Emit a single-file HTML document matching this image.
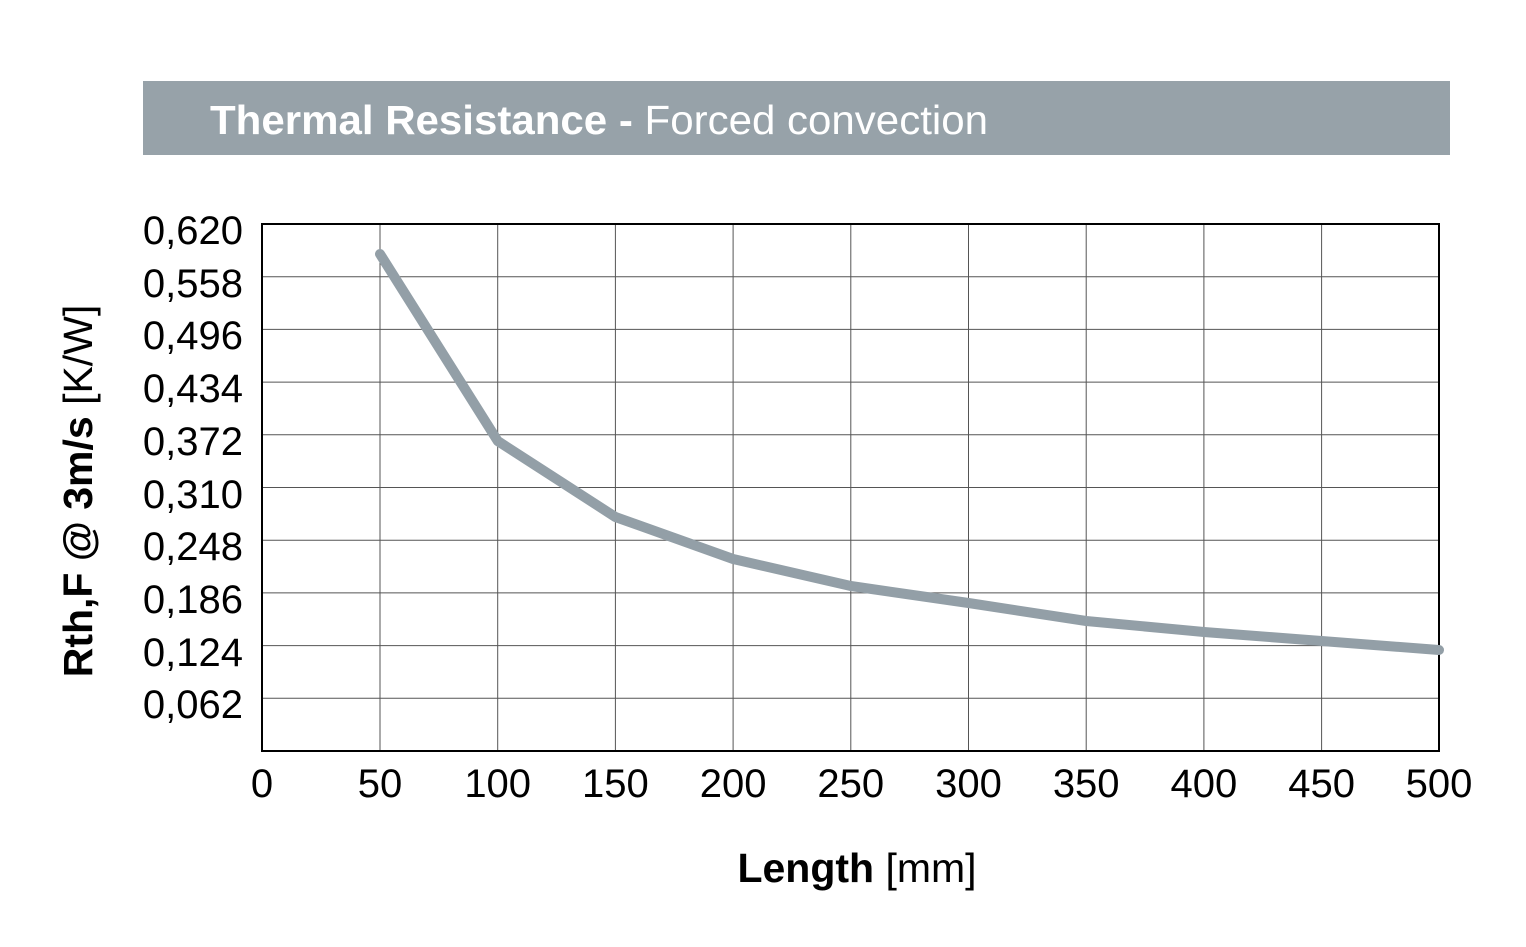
<!DOCTYPE html>
<html><head><meta charset="utf-8"><style>
html,body{margin:0;padding:0;background:#fff;}
svg{display:block;font-family:"Liberation Sans",Arial,sans-serif;}
</style></head><body>
<svg width="1526" height="947" viewBox="0 0 1526 947" xmlns="http://www.w3.org/2000/svg">
<rect x="143" y="81" width="1307" height="74" fill="#97a2a9"/>
<text x="210" y="134" font-size="41" fill="#fff" textLength="778" lengthAdjust="spacingAndGlyphs"><tspan font-weight="bold">Thermal Resistance -</tspan> Forced convection</text>
<g stroke="#555" stroke-width="1">
<line x1="380" y1="224" x2="380" y2="751"/><line x1="497.7" y1="224" x2="497.7" y2="751"/>
<line x1="615.4" y1="224" x2="615.4" y2="751"/><line x1="733.1" y1="224" x2="733.1" y2="751"/>
<line x1="850.8" y1="224" x2="850.8" y2="751"/><line x1="968.5" y1="224" x2="968.5" y2="751"/>
<line x1="1086.2" y1="224" x2="1086.2" y2="751"/><line x1="1203.9" y1="224" x2="1203.9" y2="751"/>
<line x1="1321.6" y1="224" x2="1321.6" y2="751"/>
<line x1="262" y1="276.7" x2="1439" y2="276.7"/><line x1="262" y1="329.4" x2="1439" y2="329.4"/>
<line x1="262" y1="382.1" x2="1439" y2="382.1"/><line x1="262" y1="434.8" x2="1439" y2="434.8"/>
<line x1="262" y1="487.5" x2="1439" y2="487.5"/><line x1="262" y1="540.2" x2="1439" y2="540.2"/>
<line x1="262" y1="592.9" x2="1439" y2="592.9"/><line x1="262" y1="645.6" x2="1439" y2="645.6"/>
<line x1="262" y1="698.3" x2="1439" y2="698.3"/>
</g>
<rect x="262" y="224" width="1177" height="527" fill="none" stroke="#000" stroke-width="2"/>
<polyline points="380,254 497.7,441 615.4,517 733.1,559 850.8,586 968.5,603 1086.2,621 1203.9,632 1321.6,641 1439,650" fill="none" stroke="#939fa7" stroke-width="10" stroke-linecap="round" stroke-linejoin="round"/>
<g font-size="40" fill="#000" text-anchor="end">
<text x="243" y="244">0,620</text><text x="243" y="297">0,558</text><text x="243" y="349">0,496</text>
<text x="243" y="402">0,434</text><text x="243" y="455">0,372</text><text x="243" y="508">0,310</text>
<text x="243" y="560">0,248</text><text x="243" y="613">0,186</text><text x="243" y="666">0,124</text>
<text x="243" y="718">0,062</text>
</g>
<g font-size="40" fill="#000" text-anchor="middle">
<text x="262" y="797">0</text><text x="380" y="797">50</text><text x="497.7" y="797">100</text>
<text x="615.4" y="797">150</text><text x="733.1" y="797">200</text><text x="850.8" y="797">250</text>
<text x="968.5" y="797">300</text><text x="1086.2" y="797">350</text><text x="1203.9" y="797">400</text>
<text x="1321.6" y="797">450</text><text x="1439" y="797">500</text>
</g>
<text x="857" y="882" font-size="41" text-anchor="middle"><tspan font-weight="bold">Length</tspan> [mm]</text>
<text transform="translate(92,491) rotate(-90)" font-size="41" text-anchor="middle"><tspan font-weight="bold">Rth,F @ 3m/s</tspan> [K/W]</text>
</svg>
</body></html>
